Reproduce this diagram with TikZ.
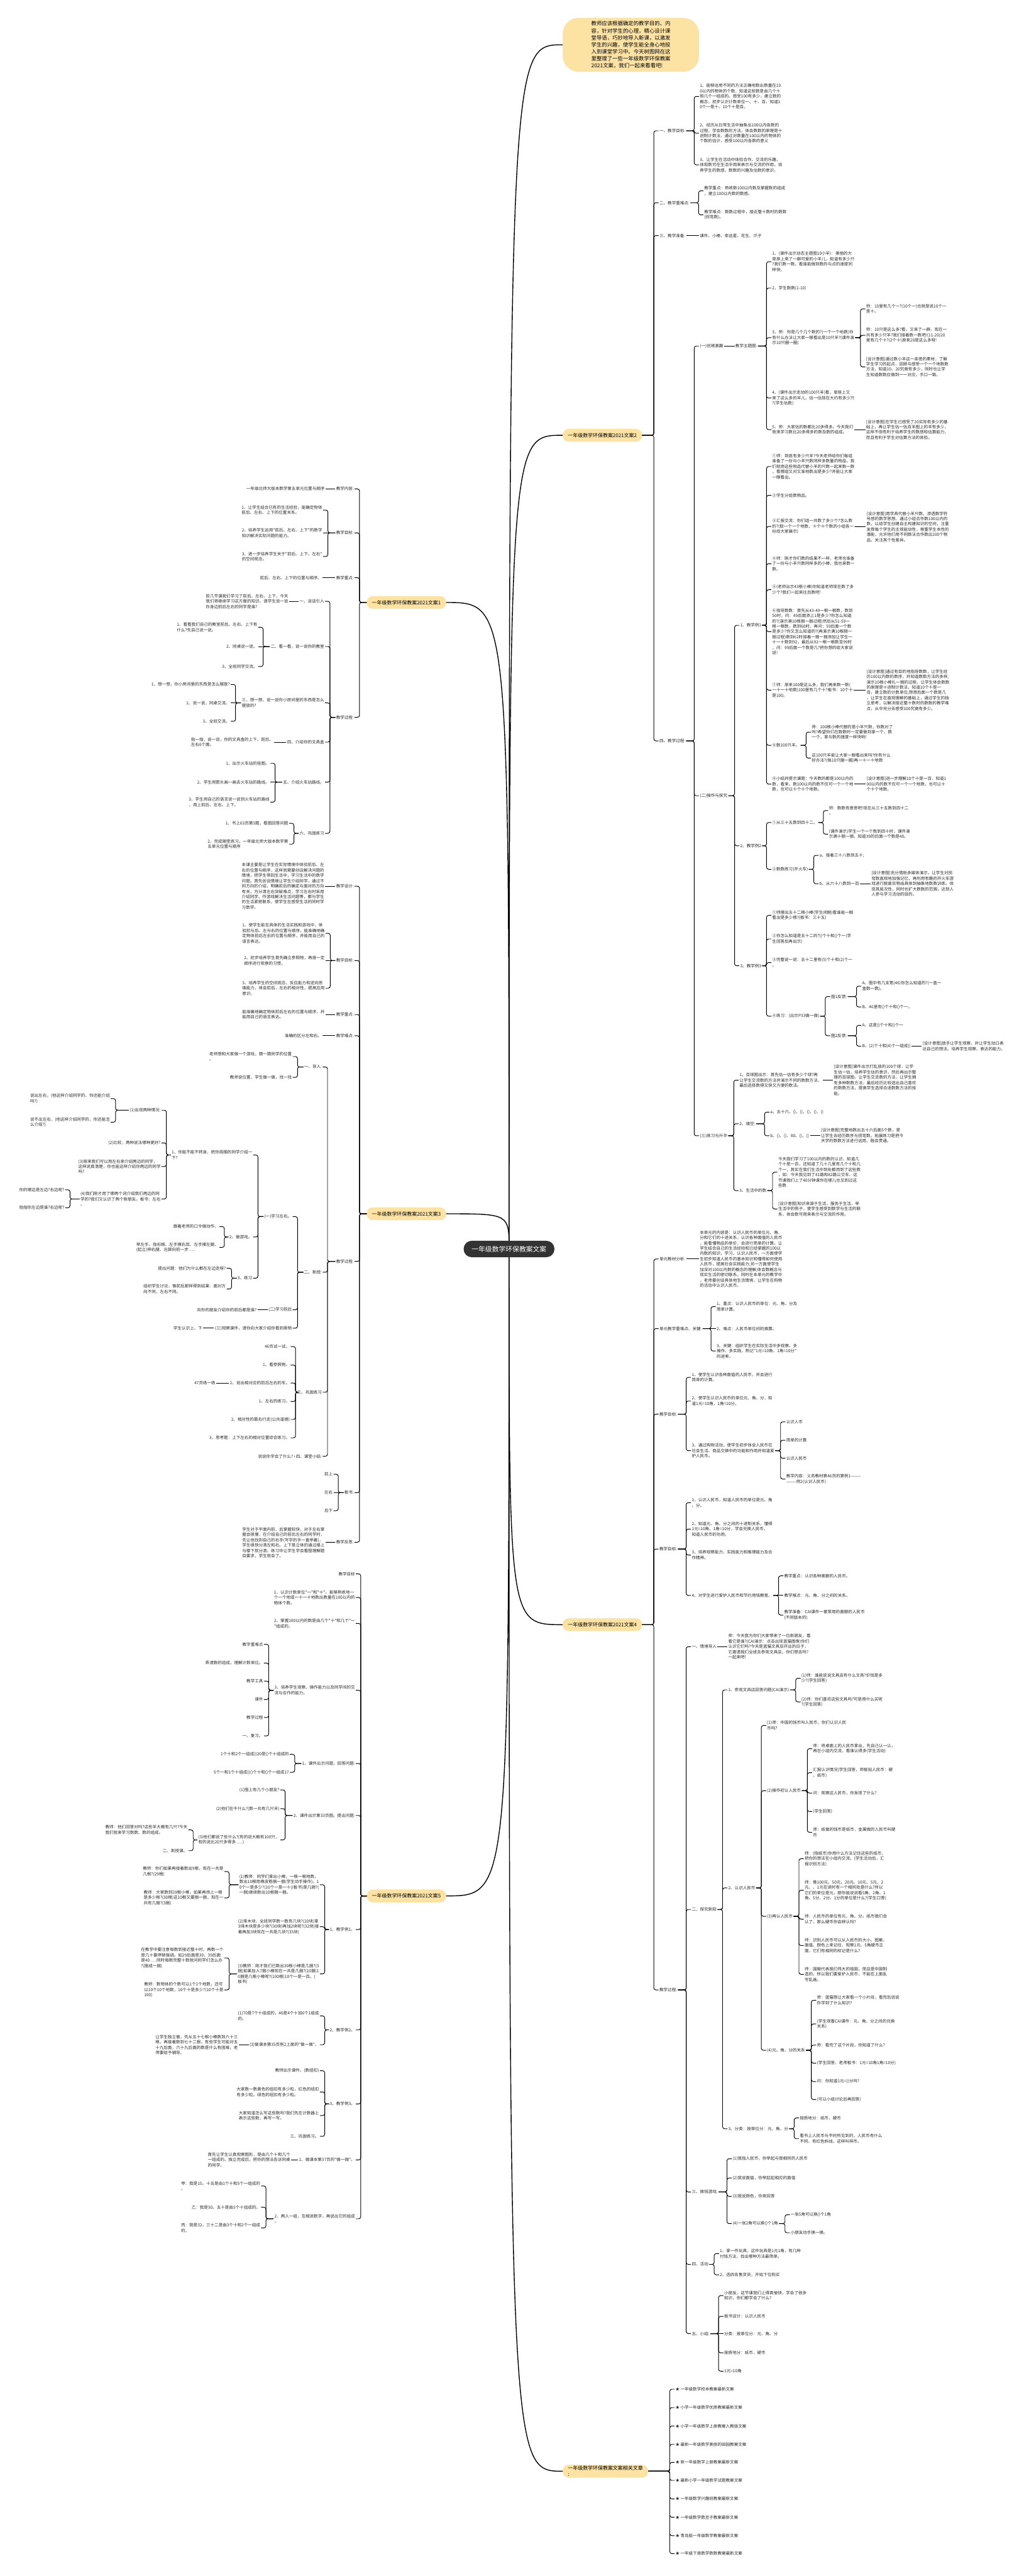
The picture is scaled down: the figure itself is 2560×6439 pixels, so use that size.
\documentclass[tikz,border=0pt]{standalone}
\usepackage{fontspec}
\newfontfamily\cjk{Noto Sans CJK SC}
\definecolor{topicfill}{RGB}{252,227,164}
\definecolor{rootfill}{RGB}{51,51,51}
\definecolor{ink}{RGB}{40,40,40}
\tikzset{
  every node/.style={font=\cjk\fontsize{10.3}{13.3}\selectfont, text=ink, align=left, inner xsep=2pt, inner ysep=1pt},
  rt/.style={anchor=west},
  lt/.style={anchor=east},
  topic/.style={anchor=west, fill=topicfill, rounded corners=15pt, minimum height=32pt, inner xsep=13pt, font=\cjk\fontsize{12.5}{15}\selectfont, text=black},
  introbox/.style={anchor=west, fill=topicfill, rounded corners=40pt, minimum width=341pt, minimum height=135pt, font=\cjk\fontsize{13.2}{17.5}\selectfont, text=black},
  rootbox/.style={fill=rootfill, text=white, rounded corners=20pt, minimum height=41pt, inner xsep=20pt, font=\cjk\fontsize{17}{20}\selectfont},
  twig/.style={line width=1.5pt, rounded corners=5pt},
  twigR/.style={twig, to path={(\tikztostart.east) -- ([xshift=-12pt]\tikztotarget.west |- \tikztostart.east) |- (\tikztotarget.west)}},
  twigL/.style={twig, to path={(\tikztostart.west) -- ([xshift=12pt]\tikztotarget.east |- \tikztostart.west) |- (\tikztotarget.east)}},
  trunk/.style={line width=2.2pt},
}
\begin{document}
\begin{tikzpicture}[x=1pt, y=-1pt]
\fill[white] (0,0) rectangle (2560,6439);
\useasboundingbox (0,0) rectangle (2560,6439);

\node[introbox] (intro) at (1407,112) {教师应该根据确定的教学目的、内\\容，针对学生的心理，精心设计课\\堂导语，巧妙地导入新课，以激发\\学生的兴趣，使学生能全身心地投\\入到课堂学习中。今天树图网在这\\里整理了一些一年级数学环保教案\\2021文案，我们一起来看看吧!};

\node[topic] (t2) at (1407,1088) {一年级数学环保教案2021文案2};
\node[rt] (a1) at (1647,327) {一、教学目标:};
\node[rt] (a2) at (1647,507) {二、教学重难点:};
\node[rt] (a3) at (1647,589) {三、教学准备:};
\node[rt] (a4) at (1647,1852) {四、教学过程:};
\node[rt] (a11) at (1748,241) {1、能够运用不同的方法正确地数出数量在10\\0以内的物体的个数，知道这些数是由几个十\\和几个一组成的。感受100有多少，建立数的\\概念，初步认识计数单位一、十、百、知道1\\0个一是十、10个十是百。};
\node[rt] (a12) at (1748,333) {2、经历从日常生活中抽象出100以内各数的\\过程，学会数数的方法，体会数数的原理是十\\进制计数法，通过对数量在100以内的物体的\\个数的估计，感受100以内各数的意义};
\node[rt] (a13) at (1748,412) {3、让学生在活动中体验合作、交流的乐趣，\\体现数可在生活中用来表示与交流的作用。培\\养学生的数感、数数的兴趣及估数的意识。};
\node[rt] (a21) at (1759,477) {教学重点：熟练数100以内数及掌握数的组成\\，建立100以内数的数感。};
\node[rt] (a22) at (1759,537) {教学难点：数数过程中，接近整十数时的数数\\(拐弯数)。};
\node[rt] (a31) at (1748,589) {课件、小棒、幸运星、花生、爪子};
\node[rt] (b1) at (1748,865) {(一)创境激趣};
\node[rt] (b2) at (1748,1989) {(二)操作与探究};
\node[rt] (b3) at (1748,2839) {(三)练习与升华};
\node[rt] (b11) at (1837,865) {教学主题图:};
\node[rt] (c1) at (1929,654) {1、(课件出示动态主题图10小羊)：美丽的大\\草原上来了一群可爱的小羊儿，知道有多少只\\?我们数一数。看谁能做到数的与点的速度同\\样快。};
\node[rt] (c2) at (1929,720) {2、学生数数(1-10)};
\node[rt] (c3) at (1929,844) {3、师：你是几个几个数的?(一个一个地数)你\\有什么办法让大家一眼看出是10只羊?(课件演\\示10只圈一圈)};
\node[rt] (c4) at (1929,995) {4、(课件出示走动的100只羊)看，草原上又\\来了这么多的羊儿，估一估现在大约有多少只\\?(学生估数)};
\node[rt] (c5) at (1929,1074) {5、师：大家估的数都比20多得多。今天我们\\就来学习数比20多得多的数及数的组成。};
\node[rt] (c31) at (2164,772) {师：10里有几个一?(10个一)也就是说10个一\\是十。};
\node[rt] (c32) at (2164,838) {师：10只是这么多?看，又来了一群，现在一\\共有多少只羊?我们接着数一数吧!(11-20)20\\里有几个十?(2个十)原来20是这么多呀!};
\node[rt] (c33) at (2164,917) {[设计意图]通过数小羊这一亲密的素材，了解\\学生学习的起点，回顾与感受一个一个地数数\\方法，知道10、20究竟有多少，同时也让学\\生知道数数应做到一一对应，手口一致。};
\node[rt] (c51) at (2164,1074) {[设计意图]在学生已感受了20实际有多少的基\\础上，再让学生估一估百羊图上的羊有多少，\\这样不但有利于培养学生的数感和估算能力，\\而且有利于学生对估算方法的体验。};
\node[rt] (d1) at (1849,1563) {1、教学例1};
\node[rt] (d2) at (1849,2114) {2、教学例2};
\node[rt] (d3) at (1849,2414) {3、教学例3};
\node[rt] (d11) at (1929,1166) {①师：到底有多少只羊?今天老师给你们每组\\准备了一份与小羊只数同样多数量的物品，我\\们就用这些物品代替小羊的只数一起来数一数\\，看哪组又对又准地数出是多少?并能让大家\\一眼看出。};
\node[rt] (d12) at (1929,1238) {②学生分组数物品。};
\node[rt] (d13) at (1929,1316) {③汇报交流：你们组一共数了多少个?怎么数\\的?(取一个一个地数，十个十个数的小组各一\\份给大家展示)};
\node[rt] (d14) at (1929,1409) {④师：刚才你们数的结果不一样，老师也准备\\了一份与小羊只数同样多的小棒，我也来数一\\数。};
\node[rt] (d15) at (1929,1474) {⑤(老师出示43根小棒)你知道老师现在数了多\\少个?我们一起来往后数吧!};
\node[rt] (d16) at (1929,1579) {⑥指导数数：首先从43-49一根一根数，数到\\50时，问：49后面添上1是多少?你怎么知道\\的?(演示满10根捆一捆过程)然后从51-59一\\根一根数，数到60时，再问：59后面一个数\\是多少?你又怎么知道的?(再演示满10根捆一\\捆过程)数到62时接着一捆一捆添加让学生一\\十一十数到92，最后从92一根一根数至99时\\，问：99后面一个数是几?把你想的给大家说\\说!};
\node[rt] (d17) at (1929,1725) {⑦师：原来100是这么多，我们再来数一数(\\一十一十地数)100里有几个十?板书：10个十\\是100。};
\node[rt] (d18) at (1929,1863) {⑧数100只羊。};
\node[rt] (d19) at (1929,1960) {⑨小结并提示课题：今天数的都是100以内的\\数，看来，数100以内的数不仅可一个一个地\\数，也可以十个十个地数。};
\node[rt] (d13a) at (2165,1317) {[设计意图]用学具代替小羊只数，渗透数学符\\号感的数学思想。通过小组合作数100以内的\\数，以给学生创建自主构建知识的空间，注重\\发挥每个学生的主观能动性，尊重学生本性的\\潜能，允许他们用不同数法合作数出100个物\\品，关注其个性差异。};
\node[rt] (d17a) at (2165,1725) {[设计意图]通过有目的地指导数数，让学生经\\历100以内数的数序，并知道数数方法的多样;\\演示10根小棒扎一捆的过程，让学生体会数数\\的原理是十进制计数法，知道10个十是一\\百，建立数的计数单位;想想后面一个数是几\\，让学生在直观理解的基础上，通过学生的独\\立思考，以解决接近整十数时的数数的教学难\\点，从中充分去感受100究竟有多少。};
\node[rt] (d18a) at (2028,1830) {师：100根小棒代替的是小羊只数，你数对了\\吗?希望你们在数数时一定要做到拿一个，数\\一个，拿与数的速度一样快哟!};
\node[rt] (d18b) at (2028,1895) {这100只羊能让大家一眼看出来吗?你有什么\\好办法?(每10只圈一圈)再一十一十地数};
\node[rt] (d19a) at (2165,1960) {[设计意图]进一步理解10个十是一百，知道1\\00以内的数不仅可一个一个地数，也可以十\\个十个地数。};
\node[rt] (d21) at (1929,2056) {①从三十五数到四十二。};
\node[rt] (d22) at (1929,2173) {②数数练习(开火车)};
\node[rt] (d21a) at (2071,2026) {师：数数有意思吧!现在从三十五数到四十二\\。};
\node[rt] (d21b) at (2071,2085) {(课件演示)学生一个一个数到四十时，课件演\\示满十捆一捆，知道39的后面一个数是40。};
\node[rt] (d22a) at (2047,2138) {a、接着三十八数到五十;};
\node[rt] (d22b) at (2047,2209) {b、从六十八数到一百};
\node[rt] (d22c) at (2177,2209) {[设计意图]充分借助多媒体演示，让学生对拐\\弯数直观地加强记忆，再利用有趣的开火车游\\戏进行脱离实物由具体到抽象地数数训练。体\\现其层次性，同时也扩大数数的范围，达到人\\人参与学习活动的目的。};
\node[rt] (d31) at (1929,2288) {①师摆出五十二根小棒(学生闭眼)看谁能一眼\\看出是多少根?(板书：三十五)};
\node[rt] (d32) at (1929,2347) {②你怎么知道是五十二的?()个十和()个一(学\\生回答后再出示)};
\node[rt] (d33) at (1929,2406) {③完整说一说：五十二里有(5)个十和(2)个一\\。};
\node[rt] (d34) at (1929,2540) {④练习：(出示P33做一做)};
\node[rt] (d341) at (2076,2491) {图1反馈:};
\node[rt] (d342) at (2076,2589) {图2反馈:};
\node[rt] (e1) at (2154,2465) {A、图中有几支笔(46)你怎么知道的?(一盒一\\盒数一数)。};
\node[rt] (e2) at (2154,2517) {B、46里有()个十和()个一。};
\node[rt] (e3) at (2154,2563) {A、这是()个十和()个一};
\node[rt] (e4) at (2154,2615) {B、(2)个十和(4)个一组成()};
\node[rt] (e5) at (2305,2615) {[设计意图]放手让学生观察，并让学生动口表\\达自己的想法。培养学生观察、表达的能力。};
\node[rt] (f1) at (1847,2700) {1、百球图出示：首先估一估有多少个球?再\\让学生交流数的方法并演示不同的数数方法，\\最后选择数得又快又方便的数法。};
\node[rt] (f1a) at (2083,2700) {[设计意图]课件出示打乱放的100个球，让学\\生估一估，培养学生估的意识，然后再出示整\\理的百球图，让学生交流数的方法，让学生拥\\有多种数数方法，最后经历比较选出自己喜欢\\的数数方法，提高学生选择合适数数方法的技\\能。};
\node[rt] (f2) at (1847,2809) {2、填空:};
\node[rt] (f21) at (1924,2780) {a、五十六、()、()、()、()、()};
\node[rt] (f22) at (1924,2839) {b、()、()、80、()、()};
\node[rt] (f22a) at (2051,2839) {[设计意图]完整地数出五十六后面5个数，是\\让学生去经历数序与拐弯数。拓展练习是把今\\天学的数数方法进行运用，融会贯通。};
\node[rt] (f3) at (1847,2976) {3、生活中的数};
\node[rt] (f31) at (1944,2930) {今天我们学习了100以内的数的认识，知道几\\个十是一百，还知道了几十几里有几个十和几\\个一，其实在我们生活中到处都用到了这些数\\，如：今天我见到了81路和82路公交车、这\\节课我们上了40分钟课你在哪儿也见到过这\\些数};
\node[rt] (f32) at (1944,3022) {[设计意图]知识来源于生活，服务于生活，举\\生活中的例子，使学生感受到数学与生活的联\\系，体会数可用来表示与交流的作用。};

\draw (t2) edge[twigR] (a1) edge[twigR] (a2) edge[twigR] (a3) edge[twigR] (a4);
\draw (a1) edge[twigR] (a11) edge[twigR] (a12) edge[twigR] (a13);
\draw (a2) edge[twigR] (a21) edge[twigR] (a22);
\draw[twig] (a3) -- (a31);
\draw (a4) edge[twigR] (b1) edge[twigR] (b2) edge[twigR] (b3);
\draw[twig] (b1) -- (b11);
\draw (b11) edge[twigR] (c1) edge[twigR] (c2) edge[twigR] (c3) edge[twigR] (c4) edge[twigR] (c5);
\draw (c3) edge[twigR] (c31) edge[twigR] (c32) edge[twigR] (c33);
\draw[twig] (c5) -- (c51);
\draw (b2) edge[twigR] (d1) edge[twigR] (d2) edge[twigR] (d3);
\draw (d1) edge[twigR] (d11) edge[twigR] (d12) edge[twigR] (d13) edge[twigR] (d14) edge[twigR] (d15) edge[twigR] (d16) edge[twigR] (d17) edge[twigR] (d18) edge[twigR] (d19);
\draw[twig] (d13) -- (d13a);
\draw[twig] (d17) -- (d17a);
\draw (d18) edge[twigR] (d18a) edge[twigR] (d18b);
\draw[twig] (d19) -- (d19a);
\draw (d2) edge[twigR] (d21) edge[twigR] (d22);
\draw (d21) edge[twigR] (d21a) edge[twigR] (d21b);
\draw (d22) edge[twigR] (d22a) edge[twigR] (d22b);
\draw[twig] (d22b) -- (d22c);
\draw (d3) edge[twigR] (d31) edge[twigR] (d32) edge[twigR] (d33) edge[twigR] (d34);
\draw (d34) edge[twigR] (d341) edge[twigR] (d342);
\draw (d341) edge[twigR] (e1) edge[twigR] (e2);
\draw (d342) edge[twigR] (e3) edge[twigR] (e4);
\draw[twig] (e4) -- (e5);
\draw (b3) edge[twigR] (f1) edge[twigR] (f2) edge[twigR] (f3);
\draw[twig] (f1) -- (f1a);
\draw (f2) edge[twigR] (f21) edge[twigR] (f22);
\draw[twig] (f22) -- (f22a);
\draw (f3) edge[twigR] (f31) edge[twigR] (f32);

\node[topic] (t4) at (1407,4061) {一年级数学环保教案2021文案4};
\node[rt] (g1) at (1647,3147) {单元教材分析:};
\node[rt] (g2) at (1647,3321) {单元教学重难点、关键:};
\node[rt] (g3) at (1647,3535) {教学目标:};
\node[rt] (g4) at (1647,3872) {教学目标:};
\node[rt] (g5) at (1647,4974) {教学过程:};
\node[rt] (g11) at (1748,3147) {本单元的内容是：认识人民币的单位元、角、\\分和它们的十进关系，认识各种面值的人民币\\，能看懂物品的单价，会进行简单的计算。让\\学生结合自己的生活经验和已经掌握的100以\\内数的知识，学习、认识人民币，一方面使学\\生初步知道人民币的基本知识和懂得如何使用\\人民币，提高社会实践能力;另一方面使学生\\加深对100以内数的概念的理解;体会数概念与\\现实生活的密切联系。同时在本单元的教学中\\，老师要创设具体地生活情境，让学生在购物\\的活动中认识人民币。};
\node[rt] (g21) at (1790,3266) {1、重点：认识人民币的单位：元、角、分及\\简单计算。};
\node[rt] (g22) at (1790,3321) {2、难点：人民币单位间的换算。};
\node[rt] (g23) at (1790,3377) {3、关键：组织学生在实际生活中多观察、多\\操作、多实践，熟记"1元=10角、1角=10分"\\的进率。};
\node[rt] (g31) at (1728,3443) {1、使学生认识各种面值的人民币，并会进行\\简单的计算。};
\node[rt] (g32) at (1728,3502) {2、使学生认识人民币的单位元、角、分，知\\道1元=10角，1角=10分。};
\node[rt] (g33) at (1728,3626) {3、通过购物活动，使学生初步体会人民币在\\社会生活、商品交换中的功能和作用并知道爱\\护人民币。};
\node[rt] (g331) at (1964,3554) {认识人币};
\node[rt] (g332) at (1964,3600) {简单的计算};
\node[rt] (g333) at (1964,3645) {认识人民币};
\node[rt] (g334) at (1964,3697) {教学内容：义务教材第46页的第例1———\\———例2(认识人民币)};
\node[rt] (g41) at (1728,3756) {1、认识人民币，知道人民币的单位是元、角\\、分。};
\node[rt] (g42) at (1728,3822) {2、知道元、角、分之间的十进制关系，懂得\\1元=10角、1角=10分，学会兑换人民币，\\知道人民币的功用。};
\node[rt] (g43) at (1728,3887) {3、培养观察能力、实践能力和推理能力及合\\作精神。};
\node[rt] (g44) at (1728,3988) {4、对学生进行爱护人民币和节约用钱教育。};
\node[rt] (g441) at (1959,3939) {教学重点：认识各种面额的人民币。};
\node[rt] (g442) at (1959,3988) {教学难点：元、角、分之间的关系。};
\node[rt] (g443) at (1959,4037) {教学准备：CAI课件一套常用的面额的人民币\\(不同版本的)};
\node[rt] (h1) at (1728,4116) {一、情境导入};
\node[rt] (h2) at (1728,4773) {二、探究新知};
\node[rt] (h3) at (1728,5479) {三、换钱游戏:};
\node[rt] (h4) at (1728,5660) {四、活动};
\node[rt] (h5) at (1728,5833) {五、小结:};
\node[rt] (h11) at (1819,4116) {师：今天我为你们大家带来了一位新朋友，看\\看它是谁?(CAI演示：点击出现蓝猫图像)你们\\认识它们吗?今天是蓝猫文具店开业的日子，\\它邀请我们全班去参观文具店，你们想去吗?\\一起来吧!};
\node[rt] (h21) at (1819,4224) {1、参观文具店回答问题(CAI演示)};
\node[rt] (h22) at (1819,4719) {2、认识人民币};
\node[rt] (h23) at (1819,5321) {3、分类：按单位分：元、角、分};
\node[rt] (h211) at (2002,4195) {(1)师：谁能说说文具店有什么文具?价钱是多\\少?(学生回答)};
\node[rt] (h212) at (2002,4254) {(2)师：你们喜欢这些文具吗?可是用什么买呢\\?(学生回答)};
\node[rt] (i1) at (1916,4313) {(1)师：中国的钱币叫人民币，你们认识人民\\币吗?};
\node[rt] (i2) at (1916,4476) {(2)操作初认人民币};
\node[rt] (i3) at (1916,4790) {(3)再认人民币};
\node[rt] (i4) at (1916,5125) {(4)元、角、分的关系};
\node[rt] (i21) at (2031,4371) {师：将桌面上的人民币拿出，先自己认一认，\\再在小组内交流，看谁认得多(学生活动)};
\node[rt] (i22) at (2031,4431) {汇报认识情况(学生回答，师板贴人民币：硬\\、纸币)};
\node[rt] (i23) at (2031,4482) {问：观察这人民币，你发现了什么?};
\node[rt] (i24) at (2031,4528) {(学生回答)};
\node[rt] (i25) at (2031,4580) {师：纸做的钱币是纸币，金属做的人民币叫硬\\币};
\node[rt] (i31) at (2010,4646) {师：(指纸币)你用什么方法记住这些的纸币，\\把你的想法在小组内交流。(学生活动后，汇\\报识别方法)};
\node[rt] (i32) at (2010,4725) {师：像100元、50元、20元、10元、5元、2\\元、、1元在读时有一个相同处是什么?所以\\它们的单位是元，那你能说说看5角、2角、1\\角、5分、2分、1分的单位是什么?(学生口答)};
\node[rt] (i33) at (2010,4797) {师：人民币的单位有元、角、分。纸币我们会\\认了，那么硬币你会辨认吗?};
\node[rt] (i34) at (2010,4863) {师：识别人民币可以从人民币的大小、图案、\\面值、颜色上来记住，观察1元、5角硬币正\\面，它们有相同的标记是什么?};
\node[rt] (i35) at (2010,4935) {师：国徽代表我们伟大的祖国，而且是中国制\\造的，所以我们要爱护人民币，不能在上面乱\\写乱画。};
\node[rt] (i41) at (2041,5000) {师：蓝猫想让大家看一个小片段，看完后说说\\你学到了什么知识?};
\node[rt] (i42) at (2041,5059) {(学生观看CAI课件：元、角、分之间的兑换\\关系)};
\node[rt] (i43) at (2041,5112) {师：看完了这个片段，你知道了什么?};
\node[rt] (i44) at (2041,5157) {(学生回答，老师板书：1元=10角1角=10分)};
\node[rt] (i45) at (2041,5203) {问：你知道1元=()分吗?};
\node[rt] (i46) at (2041,5248) {(可以小组讨论后再回答)};
\node[rt] (h231) at (1998,5294) {按质地分：纸币、硬币};
\node[rt] (h232) at (1998,5346) {看书上人民币与平时所见到的，人民币有什么\\不同，有红色斜线，这样叫样币。};
\node[rt] (j1) at (1830,5396) {(1)我指人民币，你举起与我相同的人民币};
\node[rt] (j2) at (1830,5444) {(2)我说面值，你举起起相应的面值};
\node[rt] (j3) at (1830,5490) {(3)我说颜色，你来回答};
\node[rt] (j4) at (1830,5558) {(4)一张2角可以换()个1角};
\node[rt] (j41) at (1975,5536) {一张5角可以换()个1角};
\node[rt] (j42) at (1975,5581) {小朋友动手换一换。};
\node[rt] (k1) at (1798,5633) {1、拿一件玩具，这件玩具是1元1角，有几种\\付钱方法，找出哪种方法最简单。};
\node[rt] (k2) at (1798,5686) {2、选四名售货员，开始下位购买};
\node[rt] (m1) at (1809,5738) {小朋友，这节课我们上得真愉快，学会了很多\\知识，你们都学会了什么?};
\node[rt] (m2) at (1809,5790) {板书设计：认识人民币};
\node[rt] (m3) at (1809,5833) {分类：按单位分：元、角、分};
\node[rt] (m4) at (1809,5881) {按质地分：纸币、硬币};
\node[rt] (m5) at (1809,5927) {1元=10角};

\draw (t4) edge[twigR] (g1) edge[twigR] (g2) edge[twigR] (g3) edge[twigR] (g4) edge[twigR] (g5);
\draw[twig] (g1) -- (g11);
\draw (g2) edge[twigR] (g21) edge[twigR] (g23);
\draw[twig] (g2) -- (g22);
\draw (g3) edge[twigR] (g31) edge[twigR] (g32) edge[twigR] (g33);
\draw (g33) edge[twigR] (g331) edge[twigR] (g332) edge[twigR] (g333) edge[twigR] (g334);
\draw (g4) edge[twigR] (g41) edge[twigR] (g42) edge[twigR] (g43) edge[twigR] (g44);
\draw (g44) edge[twigR] (g441) edge[twigR] (g443);
\draw[twig] (g44) -- (g442);
\draw (g5) edge[twigR] (h1) edge[twigR] (h2) edge[twigR] (h3) edge[twigR] (h4) edge[twigR] (h5);
\draw[twig] (h1) -- (h11);
\draw (h2) edge[twigR] (h21) edge[twigR] (h22) edge[twigR] (h23);
\draw (h21) edge[twigR] (h211) edge[twigR] (h212);
\draw (h22) edge[twigR] (i1) edge[twigR] (i2) edge[twigR] (i3) edge[twigR] (i4);
\draw (i2) edge[twigR] (i21) edge[twigR] (i22) edge[twigR] (i23) edge[twigR] (i24) edge[twigR] (i25);
\draw (i3) edge[twigR] (i31) edge[twigR] (i32) edge[twigR] (i33) edge[twigR] (i34) edge[twigR] (i35);
\draw (i4) edge[twigR] (i41) edge[twigR] (i42) edge[twigR] (i43) edge[twigR] (i44) edge[twigR] (i45) edge[twigR] (i46);
\draw (h23) edge[twigR] (h231) edge[twigR] (h232);
\draw (h3) edge[twigR] (j1) edge[twigR] (j2) edge[twigR] (j3) edge[twigR] (j4);
\draw (j4) edge[twigR] (j41) edge[twigR] (j42);
\draw (h4) edge[twigR] (k1) edge[twigR] (k2);
\draw (h5) edge[twigR] (m1) edge[twigR] (m2) edge[twigR] (m4) edge[twigR] (m5);
\draw[twig] (h5) -- (m3);

\node[topic] (rel) at (1407,6177) {一年级数学环保教案文案相关文章\\:};
\node[rt] (r1) at (1687,5972) {★ 一年级数学校本教案最新文案};
\node[rt] (r2) at (1687,6018) {★ 小学一年级数学优质教案最新文案};
\node[rt] (r3) at (1687,6064) {★ 小学一年级数学上册教案人教版文案};
\node[rt] (r4) at (1687,6110) {★ 最新一年级数学美丽的田园教案文案};
\node[rt] (r5) at (1687,6155) {★ 新一年级数学上册教案最新文案};
\node[rt] (r6) at (1687,6200) {★ 最新小学一年级数学试题教案文案};
\node[rt] (r7) at (1687,6246) {★ 一年级数学兴趣班教案最新文案};
\node[rt] (r8) at (1687,6292) {★ 一年级数学数豆子教案最新文案};
\node[rt] (r9) at (1687,6338) {★ 青岛版一年级数学教案最新文案};
\node[rt] (r10) at (1687,6383) {★ 一年级下册数学数数教案最新文案};
\draw (rel) edge[twigR] (r1) edge[twigR] (r2) edge[twigR] (r3) edge[twigR] (r4) edge[twigR] (r5) edge[twigR] (r6) edge[twigR] (r7) edge[twigR] (r8) edge[twigR] (r9) edge[twigR] (r10);

\node[topic] (t1) at (917,1506) {一年级数学环保教案2021文案1};
\node[lt] (n1) at (887,1222) {教学内容:};
\node[lt] (n2) at (887,1332) {教学目标:};
\node[lt] (n3) at (887,1444) {教学重点:};
\node[lt] (n4) at (887,1793) {教学过程:};
\node[lt] (n11) at (814,1222) {一年级北师大版本数学第五单元位置与顺序};
\node[lt] (n21) at (808,1275) {1、让学生结合已有的生活经验，能确定物体\\前后、左右、上下的位置关系。};
\node[lt] (n22) at (808,1332) {2、培养学生运用"前后、左右、上下"的数学\\知识解决实际问题的能力。};
\node[lt] (n23) at (808,1391) {3、进一步培养学生关于"前后、上下、左右"\\的空间观念。};
\node[lt] (n31) at (807,1444) {前后、左右、上下的位置与顺序。};
\node[lt] (p1) at (813,1503) {一、谈话引入};
\node[lt] (p2) at (813,1616) {二、看一看，说一说你的教室};
\node[lt] (p3) at (813,1757) {三、想一想，说一说你小房间里的东西是怎么\\摆放的?};
\node[lt] (p4) at (813,1855) {四、介绍你的文具盒};
\node[lt] (p5) at (813,1955) {五、介绍火车站路线。};
\node[lt] (p6) at (813,2083) {六、巩固练习};
\node[lt] (p11) at (723,1503) {前几节课我们学习了前后、左右、上下，今天\\我们将继续学习这方面的知识。请学生说一说\\你身边前后左右的同学是谁?};
\node[lt] (p21) at (646,1568) {1、看看我们自己的教室前后、左右、上下有\\什么?先自己说一说。};
\node[lt] (p22) at (646,1616) {2、同桌说一说。};
\node[lt] (p23) at (646,1666) {3、全班同学交流。};
\node[lt] (p31) at (577,1711) {1、想一想，你小房间里的东西是怎么摆放?};
\node[lt] (p32) at (577,1757) {2、说一说，同桌交流。};
\node[lt] (p33) at (577,1803) {3、全班交流。};
\node[lt] (p41) at (686,1855) {指一指，说一说，你的文具盒的上下、前后、\\左右6个面。};
\node[lt] (p51) at (676,1908) {1、出示火车站的挂图。};
\node[lt] (p52) at (676,1955) {2、学生用箭头画一画去火车站的路线。};
\node[lt] (p53) at (676,2005) {3、学生用自己的语言说一说到火车站的路线\\，用上前后、左右、上下。};
\node[lt] (p61) at (723,2058) {1、书上63页第3题，看图回答问题};
\node[lt] (p62) at (723,2110) {2、完成随堂练习。一年级北师大版本数学第\\五单元位置与顺序};

\draw (t1) edge[twigL] (n1) edge[twigL] (n2) edge[twigL] (n3) edge[twigL] (n4);
\draw[twig] (n1) -- (n11);
\draw (n2) edge[twigL] (n21) edge[twigL] (n23);
\draw[twig] (n2) -- (n22);
\draw[twig] (n3) -- (n31);
\draw (n4) edge[twigL] (p1) edge[twigL] (p2) edge[twigL] (p3) edge[twigL] (p4) edge[twigL] (p5) edge[twigL] (p6);
\draw[twig] (p1) -- (p11);
\draw (p2) edge[twigL] (p21) edge[twigL] (p23);
\draw[twig] (p2) -- (p22);
\draw (p3) edge[twigL] (p31) edge[twigL] (p33);
\draw[twig] (p3) -- (p32);
\draw[twig] (p4) -- (p41);
\draw (p5) edge[twigL] (p51) edge[twigL] (p53);
\draw[twig] (p5) -- (p52);
\draw (p6) edge[twigL] (p61) edge[twigL] (p62);

\node[topic] (t3) at (917,3034) {一年级数学环保教案2021文案3};
\node[lt] (q1) at (887,2215) {教学设计:};
\node[lt] (q2) at (887,2401) {教学目标:};
\node[lt] (q3) at (887,2536) {教学重点:};
\node[lt] (q4) at (887,2589) {教学难点:};
\node[lt] (q5) at (887,3153) {教学过程:};
\node[lt] (q6) at (887,3731) {板书:};
\node[lt] (q7) at (887,3855) {教学反思:};
\node[lt] (q11) at (813,2215) {本课主要是让学生在实际情境中体验前后、左\\右的位置与顺序，这样就需要创设解决问题的\\情境，把学生带回生活中，学习生活中的数学\\问题。首先创设情境让学生介绍同学，通过不\\同方向的介绍，明确前后的确定与面对的方向\\有关，为分清左右突破难点，学习左右时采用\\介绍同学、作游戏解决生活问题等，都与学生\\的生活紧密联系，使学生在感受生活的同时学\\习数学。};
\node[lt] (q21) at (814,2333) {1、使学生能在具体的生活实践和游戏中，体\\验前与后、左与右的位置与顺序。能准确地确\\定物体前后左右的位置与顺序，并能用自己的\\语言表达。};
\node[lt] (q22) at (814,2401) {2、初步培养学生首先确立参照物，再按一定\\顺序进行观察的习惯。};
\node[lt] (q23) at (814,2470) {3、培养学生的空间观念、反应能力和逆向思\\维能力，体会前后，左右的相对性，提高应用\\意识。};
\node[lt] (q31) at (814,2536) {能准确地确定物体前后左右的位置与顺序，并\\能用自己的语言表达。};
\node[lt] (q41) at (807,2589) {准确的区分左和右。};
\node[lt] (s1) at (807,2667) {一、导入:};
\node[lt] (s2) at (807,3180) {二、新授:};
\node[lt] (s3) at (807,3480) {三、巩固练习};
\node[lt] (s4) at (807,3640) {四、课堂小结:};
\node[lt] (s11) at (732,2641) {老师想和大家做一个游戏，猜一猜同学的位置\\。};
\node[lt] (s12) at (732,2693) {教师说位置，学生做一做，找一找};
\node[lt] (u1) at (732,3041) {(一)学习左右。};
\node[lt] (u2) at (732,3274) {(二)学习前后};
\node[lt] (u3) at (732,3320) {(三)观察课件，请你向大家介绍你看到景物};
\node[lt] (v1) at (633,2887) {1、你能不能不转身，把你周围的同学介绍一\\下?};
\node[lt] (v2) at (633,3092) {2、做游戏。};
\node[lt] (v3) at (633,3195) {3、练习};
\node[lt] (w1) at (404,2775) {(1)出现两种情况:};
\node[lt] (w2) at (404,2857) {(2)比较，两种说法哪种更好?};
\node[lt] (w3) at (404,2916) {(3)原来我们可以用左右来介绍两边的同学，\\这样说真清楚，你也能这样介绍你两边的同学\\吗?};
\node[lt] (w4) at (404,2997) {(4)我们刚才用了哪两个词介绍我们两边的同\\学的?我们又认识了两个新朋友。板书：左右\\。};
\node[lt] (w11) at (277,2746) {说出左右，(他这样介绍同学的，你还能介绍\\吗?)};
\node[lt] (w12) at (277,2805) {说不出左右，(他这样介绍同学的，你还能怎\\么介绍?)};
\node[lt] (w41) at (163,2974) {你的哪边是左边?右边呢?};
\node[lt] (w42) at (163,3019) {指指你左边是谁?右边呢?};
\node[lt] (v21) at (549,3066) {跟着老师的口令做动作。};
\node[lt] (v22) at (549,3118) {举左手、指右眼、左手摸右耳、左手摸左腿、\\(起立)伸右腿、左脚向前一步......};
\node[lt] (v31) at (567,3170) {提出问题：他们为什么都在左边走呀?};
\node[lt] (v32) at (567,3222) {组织学生讨论，像前后那样得到结果：面对方\\向不同，左右不同。};
\node[lt] (u21) at (644,3274) {向你的朋友介绍你的前后都是谁?};
\node[lt] (u31) at (508,3320) {学生认识上、下};
\node[lt] (x1) at (727,3366) {46页试一试。};
\node[lt] (x2) at (727,3412) {1、看参照物。};
\node[lt] (x3) at (727,3457) {2、说出相对应的前后左右的车。};
\node[lt] (x4) at (727,3503) {1、左右的练习。};
\node[lt] (x5) at (727,3548) {2、相对性的靠右行走(公共道德)};
\node[lt] (x6) at (727,3594) {3、思考题：上下左右的相对位置综合练习。};
\node[lt] (x31) at (541,3457) {47页练一练};
\node[lt] (s41) at (735,3640) {说说你学会了什么?};
\node[lt] (q61) at (834,3685) {前上};
\node[lt] (q62) at (834,3731) {左右};
\node[lt] (q63) at (834,3776) {后下};
\node[lt] (q71) at (814,3856) {学生对于平面内前、后掌握较快，对于左右掌\\握会很慢，在介绍自己的前后左右的同学时，\\先让他找到自己的右手(写字的手一直举着)，\\学生很快分清左和右。上下是立体的通过楼上\\与楼下就分清。练习中让学生学会看图理解题\\目要求，学生就会了。};

\draw (t3) edge[twigL] (q1) edge[twigL] (q2) edge[twigL] (q3) edge[twigL] (q4) edge[twigL] (q5) edge[twigL] (q6) edge[twigL] (q7);
\draw[twig] (q1) -- (q11);
\draw (q2) edge[twigL] (q21) edge[twigL] (q23);
\draw[twig] (q2) -- (q22);
\draw[twig] (q3) -- (q31);
\draw[twig] (q4) -- (q41);
\draw (q5) edge[twigL] (s1) edge[twigL] (s2) edge[twigL] (s3) edge[twigL] (s4);
\draw (s1) edge[twigL] (s11) edge[twigL] (s12);
\draw (s2) edge[twigL] (u1) edge[twigL] (u2) edge[twigL] (u3);
\draw (u1) edge[twigL] (v1) edge[twigL] (v2) edge[twigL] (v3);
\draw (v1) edge[twigL] (w1) edge[twigL] (w2) edge[twigL] (w3) edge[twigL] (w4);
\draw (w1) edge[twigL] (w11) edge[twigL] (w12);
\draw (w4) edge[twigL] (w41) edge[twigL] (w42);
\draw (v2) edge[twigL] (v21) edge[twigL] (v22);
\draw (v3) edge[twigL] (v31) edge[twigL] (v32);
\draw[twig] (u2) -- (u21);
\draw[twig] (u3) -- (u31);
\draw (s3) edge[twigL] (x1) edge[twigL] (x2) edge[twigL] (x3) edge[twigL] (x4) edge[twigL] (x5) edge[twigL] (x6);
\draw[twig] (x3) -- (x31);
\draw[twig] (s4) -- (s41);
\draw (q6) edge[twigL] (q61) edge[twigL] (q63);
\draw[twig] (q6) -- (q62);
\draw[twig] (q7) -- (q71);

\node[topic] (t5) at (917,4739) {一年级数学环保教案2021文案5};
\node[lt] (y1) at (890,3934) {教学目标};
\node[lt] (y2) at (890,3993) {1、认识计数单位"一"和"十"。能够熟练地一\\个一个地或一十一十地数出数量在100以内的\\物体个数。};
\node[lt] (y3) at (890,4058) {2、掌握100以内的数是由几个"十"和几个"一\\"组成的。};
\node[lt] (y4) at (890,4225) {3、培养学生观察、操作能力以及同学间的交\\流与合作的能力。};
\node[lt] (y5) at (890,4408) {1、课件出示问题，回答问题:};
\node[lt] (y6) at (890,4538) {2、课件出示第33页图。提出问题:};
\node[lt] (y7) at (890,4823) {1、教学例1。};
\node[lt] (y8) at (890,5074) {2、教学例2。};
\node[lt] (y9) at (890,5259) {3、教学例3。};
\node[lt] (y10) at (890,5399) {1、做课本第37页的"做一做"。};
\node[lt] (y11) at (890,5546) {2、两人一组，互相说数字，再说出它的组成\\。};
\node[lt] (z1) at (660,4110) {教学重难点};
\node[lt] (z2) at (660,4157) {弄清数的组成，理解计数单位。};
\node[lt] (z3) at (660,4202) {教学工具};
\node[lt] (z4) at (660,4248) {课件};
\node[lt] (z5) at (660,4293) {教学过程};
\node[lt] (z6) at (660,4339) {一、复习。};
\node[lt] (y51) at (725,4385) {1个十和2个一组成()20是()个十组成的};
\node[lt] (y52) at (725,4430) {5个一和1个十组成()()个十和()个一组成17};
\node[lt] (y61) at (701,4474) {(1)图上有几个小朋友?};
\node[lt] (y62) at (701,4521) {(2)他们在干什么?(数一共有几只羊)};
\node[lt] (y63) at (701,4599) {(3)他们都说了些什么?(有的说大概有100只，\\有的说比20只多得多......)};
\node[lt] (y631) at (471,4574) {教师：他们回答对吗?这些羊大概有几只?今天\\我们就来学习数数、数的组成。};
\node[lt] (y632) at (471,4626) {二、新授课。};
\node[lt] (y71) at (800,4711) {(1)教师：同学们拿出小棒，一根一根地数，\\数出10根用橡皮筋捆一捆(学生动手操作)。1\\0个一是多少?(10个一是一十)(板书)是几捆?(\\一捆)继续数出10根捆一捆。};
\node[lt] (y72) at (800,4816) {(2)排木块，全班同学数一数有几块?(10块)拿\\3排木块是多少块?(30块)再加2块呢?(32块)接\\着再加3块现在一共是几块?(35块)};
\node[lt] (y73) at (800,4934) {(3)教师：刚才我们已数出30根小棒是几捆?(3\\捆)如果加入7捆小棒现在一共是几捆?(10捆)1\\0捆是几根小棒呢?(100根)10个一是一百。(\\板书)};
\node[lt] (y711) at (561,4678) {教师：你们如果再接着数出9根，现在一共是\\几根?(29根)};
\node[lt] (y712) at (561,4744) {教师：大家数到29根小棒，如果再添上一根\\是多少根?(30根)这10根又要捆一捆，现在一\\共有几捆?(3捆)};
\node[lt] (y731) at (561,4894) {在教学中要注意每数到接近整十时，再数一个\\是几十要停顿强调。如29后面是30，39后面\\是40......同时每数完整十数就问同学们怎么办\\?(捆成一捆)};
\node[lt] (y732) at (561,4974) {教师：数物体的个数可以1个1个地数，还可\\以10个10个地数，10个十是多少?(10个十是\\100)};
\node[lt] (y81) at (800,5039) {(1)70是7个十组成的，46是4个十加6个1组成\\的。};
\node[lt] (y82) at (800,5111) {(3)做课本第35页例2上面的"做一做"。};
\node[lt] (y821) at (597,5111) {让学生独立做，先从五十七根小棒数到六十三\\根，再接着数到七十二根，有些学生可能对五\\十九后面，六十九后面的数是什么有困难，老\\师要给予辅导。};
\node[lt] (y91) at (800,5176) {教师出示课件。(数纽扣)};
\node[lt] (y92) at (800,5229) {大家数一数黄色的纽扣有多少粒，红色的纽扣\\有多少粒。绿色的纽扣有多少粒。};
\node[lt] (y93) at (800,5288) {大家知道怎么写这些数吗?我们先在计数器上\\表示这些数，再写一写。};
\node[lt] (y94) at (800,5340) {三、巩固练习。};
\node[lt] (y101) at (728,5399) {首先让学生认真观察图形，是由几个十和几个\\一组成的。独立完成后，把你的想法告诉同桌\\的同学。};
\node[lt] (y111) at (653,5464) {甲：我是15。十五是由1个十和5个一组成的\\。};
\node[lt] (y112) at (653,5517) {乙：我是50。五十是由5个十组成的。};
\node[lt] (y113) at (653,5569) {丙：我是32。三十二是由3个十和2个一组成\\的。};

\draw (t5) edge[twigL] (y1) edge[twigL] (y2) edge[twigL] (y3) edge[twigL] (y4) edge[twigL] (y5) edge[twigL] (y6) edge[twigL] (y7) edge[twigL] (y8) edge[twigL] (y9) edge[twigL] (y10) edge[twigL] (y11);
\draw (y4) edge[twigL] (z1) edge[twigL] (z2) edge[twigL] (z3) edge[twigL] (z4) edge[twigL] (z5) edge[twigL] (z6);
\draw (y5) edge[twigL] (y51) edge[twigL] (y52);
\draw (y6) edge[twigL] (y61) edge[twigL] (y62) edge[twigL] (y63);
\draw (y63) edge[twigL] (y631) edge[twigL] (y632);
\draw (y7) edge[twigL] (y71) edge[twigL] (y72) edge[twigL] (y73);
\draw (y71) edge[twigL] (y711) edge[twigL] (y712);
\draw (y73) edge[twigL] (y731) edge[twigL] (y732);
\draw (y8) edge[twigL] (y81) edge[twigL] (y82);
\draw[twig] (y82) -- (y821);
\draw (y9) edge[twigL] (y91) edge[twigL] (y92) edge[twigL] (y93) edge[twigL] (y94);
\draw[twig] (y10) -- (y101);
\draw (y11) edge[twigL] (y111) edge[twigL] (y112) edge[twigL] (y113);

\coordinate (hub) at (1273,3122);
\draw[trunk] (hub) .. controls (1273,112) .. (intro.west);
\draw[trunk] (hub) .. controls (1273,1088) .. (t2.west);
\draw[trunk] (hub) .. controls (1273,4061) .. (t4.west);
\draw[trunk] (hub) .. controls (1273,6177) .. (rel.west);
\draw[trunk] (hub) .. controls (1273,1506) .. (t1.east);
\draw[trunk] (hub) .. controls (1273,3034) .. (t3.east);
\draw[trunk] (hub) .. controls (1273,4739) .. (t5.east);
\node[rootbox] (root) at (hub) {一年级数学环保教案文案};
\end{tikzpicture}
\end{document}
